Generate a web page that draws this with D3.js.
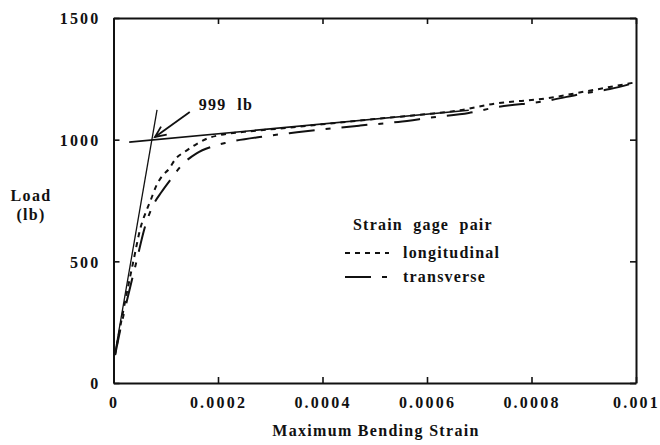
<!DOCTYPE html>
<html>
<head>
<meta charset="utf-8">
<script src="https://cdn.jsdelivr.net/npm/d3@7"></script>
<style>
  html, body { margin: 0; padding: 0; background: #fff; }
  svg { display: block; }
  text { font-family: "Liberation Serif", "DejaVu Serif", serif; font-weight: bold; fill: #111; }
</style>
</head>
<body>
<svg id="chart" width="660" height="445"></svg>
<script>
// Load vs. maximum bending strain for the two strain gage pairs
const strainTicks = [0, 0.0002, 0.0004, 0.0006, 0.0008, 0.001];
const strainTickLabels = ["0", "0.0002", "0.0004", "0.0006", "0.0008", "0.001"];
const loadTicks = [0, 500, 1000, 1500];
const loadTickLabels = ["0", "500", "1000", "1500"];

const longitudinal = [
  [0.000003, 115], [0.000019, 300], [0.000038, 500], [0.000052, 640],
  [0.0000635, 711], [0.00007, 745], [0.0000827, 814], [0.0000922, 848],
  [0.000107, 882], [0.000118, 919], [0.000137, 951], [0.000159, 982],
  [0.000181, 1006], [0.000204, 1019], [0.00025, 1032], [0.0003, 1042],
  [0.0004, 1063], [0.0005, 1085], [0.0006, 1105], [0.00066, 1120],
  [0.00073, 1148], [0.00083, 1170], [0.0009, 1197], [0.001, 1236]
];
const transverse = [
  [0.000003, 115], [0.000014, 230], [0.000026, 341], [0.000044, 500],
  [0.00006, 640], [0.0000762, 732], [0.0000922, 786], [0.000111, 841],
  [0.000131, 896], [0.000159, 944], [0.000188, 971], [0.000217, 988],
  [0.000287, 1013], [0.000351, 1030], [0.000421, 1047], [0.000472, 1058],
  [0.000545, 1073], [0.000612, 1092], [0.00068, 1110], [0.00073, 1132],
  [0.00083, 1160], [0.0009, 1190], [0.00095, 1208], [0.001, 1235]
];
// Bilinear construction lines whose intersection gives the 999 lb load
const elasticLine = [[0.0000029, 123], [0.0000833, 1122]];
const plasticLine = [[0.00003, 990], [0.00068, 1121]];
const arrowFrom = [0.000146, 1114];
const arrowTo = [0.0000794, 1011];
const annotation = { text: "999  lb", strain: 0.000163, load: 1122 };

const legendItems = [
  { label: "longitudinal", dash: "5,5" },
  { label: "transverse", dash: "26,11,5,11" }
];

const margin = { left: 113.5, right: 24, top: 18, bottom: 62 };
const W = 660, H = 445;
const svg = d3.select("#chart");

const x = d3.scaleLinear().domain([0, 0.001]).range([margin.left, W - margin.right]);
const y = d3.scaleLinear().domain([0, 1500]).range([H - margin.bottom, margin.top]);

const ink = "#111";

// Axes: all ticks point into the plot
const fmtX = d => strainTickLabels[strainTicks.indexOf(d)];
const fmtY = d => loadTickLabels[loadTicks.indexOf(d)];

const gB = svg.append("g").attr("transform", `translate(0,${y(0)})`)
  .call(d3.axisBottom(x).tickValues(strainTicks).tickFormat(fmtX).tickSizeInner(-6).tickSizeOuter(0).tickPadding(14));
const gT = svg.append("g").attr("transform", `translate(0,${y(1500)})`)
  .call(d3.axisTop(x).tickValues(strainTicks).tickFormat("").tickSizeInner(-6).tickSizeOuter(0));
const gL = svg.append("g").attr("transform", `translate(${x(0)},0)`)
  .call(d3.axisLeft(y).tickValues(loadTicks).tickFormat(fmtY).tickSizeInner(-6).tickSizeOuter(0).tickPadding(13));
const gR = svg.append("g").attr("transform", `translate(${x(0.001)},0)`)
  .call(d3.axisRight(y).tickValues(loadTicks).tickFormat("").tickSizeInner(-6).tickSizeOuter(0));

[gB, gT, gL, gR].forEach(g => {
  g.select(".domain").attr("stroke", ink).attr("stroke-width", 2);
  g.selectAll(".tick line").attr("stroke", ink).attr("stroke-width", 1.6);
  g.selectAll(".tick text").attr("font-family", null).attr("font-size", 16)
    .attr("letter-spacing", "2.2px").attr("fill", ink);
});
gL.selectAll(".tick text").attr("dy", "0.36em");

// Axis titles
svg.append("text").attr("x", 376).attr("y", 436).attr("text-anchor", "middle")
  .attr("font-size", 16).attr("letter-spacing", "1.3px").text("Maximum Bending Strain");
svg.append("text").attr("x", 31).attr("y", 201).attr("text-anchor", "middle")
  .attr("font-size", 16).attr("letter-spacing", "1.3px").text("Load");
svg.append("text").attr("x", 31).attr("y", 220).attr("text-anchor", "middle")
  .attr("font-size", 16).attr("letter-spacing", "1.3px").text("(lb)");

// Curves
const line = d3.line().x(d => x(d[0])).y(d => y(d[1])).curve(d3.curveMonotoneX);
const straight = d3.line().x(d => x(d[0])).y(d => y(d[1]));

svg.append("path").datum(elasticLine).attr("d", straight)
  .attr("fill", "none").attr("stroke", ink).attr("stroke-width", 1.3);
svg.append("path").datum(plasticLine).attr("d", straight)
  .attr("fill", "none").attr("stroke", ink).attr("stroke-width", 1.6);

svg.append("path").datum(longitudinal).attr("d", line)
  .attr("fill", "none").attr("stroke", ink).attr("stroke-width", 2)
  .attr("stroke-dasharray", legendItems[0].dash);
svg.append("path").datum(transverse).attr("d", line)
  .attr("fill", "none").attr("stroke", ink).attr("stroke-width", 2)
  .attr("stroke-dasharray", legendItems[1].dash);

// Annotation arrow
const ax0 = x(arrowFrom[0]), ay0 = y(arrowFrom[1]);
const ax1 = x(arrowTo[0]), ay1 = y(arrowTo[1]);
svg.append("line").attr("x1", ax0).attr("y1", ay0).attr("x2", ax1).attr("y2", ay1)
  .attr("stroke", ink).attr("stroke-width", 1.8);
const ang = Math.atan2(ay1 - ay0, ax1 - ax0);
const headLen = 12, spread = 0.42;
const head = [
  [ax1 - headLen * Math.cos(ang - spread), ay1 - headLen * Math.sin(ang - spread)],
  [ax1, ay1],
  [ax1 - headLen * Math.cos(ang + spread), ay1 - headLen * Math.sin(ang + spread)]
];
svg.append("path").attr("d", d3.line()(head)).attr("fill", "none")
  .attr("stroke", ink).attr("stroke-width", 1.8);
svg.append("text").attr("x", x(annotation.strain)).attr("y", y(annotation.load))
  .attr("font-size", 16).attr("letter-spacing", "1.3px").style("white-space", "pre")
  .text(annotation.text);

// Legend
const lg = svg.append("g").attr("transform", "translate(345,0)");
lg.append("text").attr("x", 8).attr("y", 230).attr("font-size", 16)
  .attr("letter-spacing", "1.2px").style("white-space", "pre").text("Strain  gage  pair");
legendItems.forEach((d, i) => {
  const yy = 253 + i * 24;
  lg.append("line").attr("x1", 0).attr("x2", 44).attr("y1", yy).attr("y2", yy)
    .attr("stroke", ink).attr("stroke-width", 2).attr("stroke-dasharray", d.dash);
  lg.append("text").attr("x", 58).attr("y", yy + 5).attr("font-size", 16)
    .attr("letter-spacing", "1.2px").text(d.label);
});
</script>
</body>
</html>
